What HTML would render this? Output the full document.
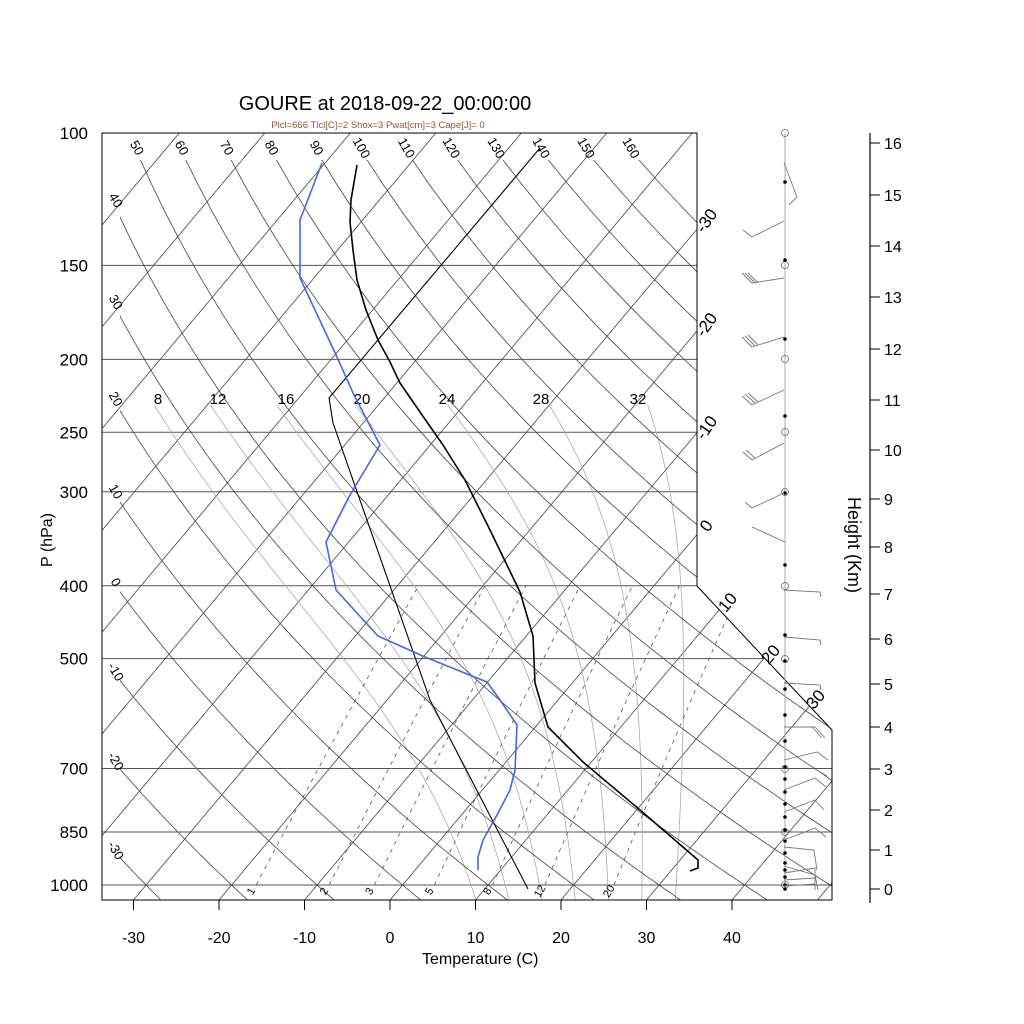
<!DOCTYPE html>
<html><head><meta charset="utf-8"><style>
html,body{margin:0;padding:0;background:#fff;}
svg{display:block;font-family:"Liberation Sans",sans-serif;}
</style></head><body>
<svg id="s" width="1024" height="1024" viewBox="0 0 1024 1024" xmlns="http://www.w3.org/2000/svg">
<defs>
<clipPath id="box"><polygon points="102,133 697,133 697,586 832,730 832,900 102,900"/></clipPath>
<clipPath id="dry"><polygon points="120,160 697,160 697,586 832,730 832,900 120,900"/></clipPath>
</defs>
<rect width="1024" height="1024" fill="#fff"/>
<g id="grid" clip-path="url(#box)"></g>
<g id="dryg" clip-path="url(#dry)"></g>
<g id="lab"></g>
<polygon points="102,133 697,133 697,586 832,730 832,900 102,900" fill="none" stroke="#000" stroke-width="1"/>
<text x="385" y="110" font-size="20" text-anchor="middle">GOURE at 2018-09-22_00:00:00</text>
<text x="378" y="128" font-size="9.5" fill="#a0522d" text-anchor="middle">Plcl=666 Tlcl[C]=2 Shox=3 Pwat[cm]=3 Cape[J]= 0</text>
<text x="422" y="964" font-size="16">Temperature (C)</text>
<text transform="translate(52,540) rotate(-90)" font-size="16" text-anchor="middle">P (hPa)</text>
<text transform="translate(848,545) rotate(90)" font-size="18" text-anchor="middle">Height (Km)</text>
<line x1="870" y1="133" x2="870" y2="903" stroke="#000" stroke-width="1.2"/>
<line x1="785" y1="133" x2="785" y2="890" stroke="#aaa" stroke-width="1"/>
</svg>
<script>
var NS="http://www.w3.org/2000/svg";
function el(parent,tag,attrs,txt){var e=document.createElementNS(NS,tag);for(var k in attrs)e.setAttribute(k,attrs[k]);if(txt!==undefined)e.textContent=txt;document.getElementById(parent).appendChild(e);return e;}
function Yp(p){return 133+326.6*Math.log(p/100);}
function Xt(T,p){return 390+8.55*T+0.84*(900-Yp(p));}
function path(pts){return pts.map(function(q,i){return (i?"L":"M")+q[0].toFixed(1)+","+q[1].toFixed(1);}).join("");}
var PB=100*Math.exp(767/326.6);
[100,150,200,250,300,400,500,700,850,1000].forEach(function(p){var y=Yp(p);el("grid","line",{x1:102,y1:y,x2:840,y2:y,stroke:"#555","stroke-width":1});
 el("s","text",{x:88,y:y+6,"font-size":17,"text-anchor":"end"},String(p));});
for(var TT=-120;TT<=60;TT+=10){el("grid","path",{d:path([[Xt(TT,PB),900],[Xt(TT,100),133]]),stroke:"#444","stroke-width":0.8,fill:"none"});}
for(var th=-30;th<=160;th+=10){var pts=[];for(var p=PB;p>=100;p-=10){var t=(th+273.15)*Math.pow(p/1000,0.286)-273.15;pts.push([Xt(t,p),Yp(p)]);}
 var t1=(th+273.15)*Math.pow(100/1000,0.286)-273.15;pts.push([Xt(t1,100),133]);
 el("dryg","path",{d:path(pts),stroke:"#444","stroke-width":0.8,fill:"none"});
 if(th>=50){var plv=100*Math.exp(17/326.6);var tl=(th+273.15)*Math.pow(plv/1000,0.286)-273.15;var xl=Xt(tl,plv);
  el("lab","text",{transform:"translate("+(xl-3)+",150) rotate(60)","font-size":13,"text-anchor":"middle"},String(th));}
 else{var best=null;for(var p2=PB;p2>=100;p2-=1){var t2=(th+273.15)*Math.pow(p2/1000,0.286)-273.15;if(Math.abs(Xt(t2,p2)-112)<1.5){best=Yp(p2);break;}}
  if(best!==null&&best<890)el("lab","text",{transform:"translate(112,"+(best+2)+") rotate(60)","font-size":13,"text-anchor":"middle"},String(th));}
}
function es(Tc){return 6.112*Math.exp(17.67*Tc/(Tc+243.5));}
function dTdp(T,p){var Tc=T-273.15,e=es(Tc),rs=0.622*e/(p-e),Rd=287,Lv=2.5e6,cp=1005;return (Rd*T+Lv*rs)/(cp+Lv*Lv*rs*0.622/(Rd*T*T))/p;}
[8,12,16,20,24,28,32].forEach(function(tw){var T=tw+273.15,p=1000;
 var Td=T,pd=1000;var down=[];while(pd<PB){var h=Math.min(2,PB-pd);Td+=dTdp(Td,pd)*h;pd+=h;down.push([Xt(Td-273.15,pd),Yp(pd)]);}
 down.reverse();var pts=down.concat([[Xt(tw,1000),Yp(1000)]]);
 while(p>230){T-=dTdp(T,p)*2;p-=2;pts.push([Xt(T-273.15,p),Yp(p)]);}
 el("grid","path",{d:path(pts),stroke:"#aaa","stroke-width":0.8,fill:"none"});});
[[8,158],[12,218],[16,286],[20,362],[24,447],[28,541],[32,638]].forEach(function(a){el("lab","text",{x:a[1],y:404,"font-size":15,"text-anchor":"middle"},String(a[0]));});
[1,2,3,5,8,12,20].forEach(function(w){var pts=[];for(var p=1000;p>=400;p-=10){var e=w*p/(622+w),l=Math.log(e/6.112),Td=243.5*l/(17.67-l);pts.push([Xt(Td,p),Yp(p)]);}
 el("grid","path",{d:path(pts),stroke:"#555","stroke-width":0.8,fill:"none","stroke-dasharray":"4,5"});
 var x0=pts[0][0];el("lab","text",{transform:"translate("+(x0-2)+",893) rotate(-60)","font-size":11,"text-anchor":"middle"},String(w));});
[[-30,218],[-20,322],[-10,425],[0,523]].forEach(function(a){el("lab","text",{transform:"translate(711,"+(a[1]+6)+") rotate(-55)","font-size":17,"text-anchor":"middle"},String(a[0]));});
[[10,732,600],[20,775,652],[30,820,697]].forEach(function(a){el("lab","text",{transform:"translate("+a[1]+","+(a[2]+6)+") rotate(-50)","font-size":17,"text-anchor":"middle"},String(a[0]));});
[-30,-20,-10,0,10,20,30,40].forEach(function(t){var x=390+8.55*t;el("s","line",{x1:x,y1:900,x2:x,y2:910,stroke:"#000"});el("s","text",{x:x,y:943,"font-size":16,"text-anchor":"middle"},String(t));});
[889,850,810,769,727,684,639,594,547,499,450,400,349,297,246,195,143].forEach(function(y,i){el("s","line",{x1:870,y1:y,x2:880,y2:y,stroke:"#000"});el("s","text",{x:884,y:y+6,"font-size":16},String(i));});
function drawLine(pts,c,w){el("s","polyline",{points:pts.map(function(q){return q.join(",");}).join(" "),fill:"none",stroke:c,"stroke-width":w,"stroke-linejoin":"round"});}
drawLine([[357,165],[351,200],[350,222],[353,250],[357,280],[366,310],[378,340],[390,362],[400,383],[420,412],[443,445],[465,480],[490,530],[520,592],[533,636],[535,683],[548,727],[583,762],[640,810],[698,860],[698,868],[690,871]],"#000",1.6);
drawLine([[540,148],[329,398],[333,423],[430,700],[528,889]],"#000",1.1);
drawLine([[322,163],[300,220],[300,278],[337,357],[353,393],[380,445],[350,495],[326,542],[336,590],[378,636],[425,657],[487,682],[500,700],[517,725],[515,770],[510,790],[497,815],[483,840],[478,857],[478,870]],"#4169e1",1.6);
[133,265,359,432,492,586,659,769,832,885].forEach(function(y){el("s","circle",{cx:785,cy:y,r:3.5,fill:"none",stroke:"#666","stroke-width":0.8});});
[182,260,339,416,493,565,635,661,689,715,741,767,779,792,804,817,830,841,853,863,870,877,885,889].forEach(function(y){el("s","circle",{cx:785,cy:y,r:1.8,fill:"#000"});});
var B=[
 "M784,163L797,197L789,205",
 "M784,221L752,237L743,230",
 "M784,278L752,283M752,283L742,273M755,283L745,273M758,283L748,273",
 "M784,337L752,347M752,347L742,337M755,346L745,336M758,345L748,335",
 "M784,390L752,405M752,405L742,396M755,403L745,394M758,402L748,393",
 "M784,443L752,460M752,460L743,452M755,458L746,450",
 "M784,493L752,508M752,508L745,502",
 "M785,542L752,527",
 "M784,590L820,592L821,597",
 "M784,637L820,640L821,645",
 "M784,683L820,685L821,690",
 "M784,727L815,727M812,727L822,738M815,727L825,738",
 "M784,760L817,752L828,760",
 "M784,790L815,778L826,787M815,769L827,776",
 "M784,812L815,800L824,810",
 "M784,840L815,828L826,837",
 "M784,847L814,850L817,870",
 "M784,866L815,875L818,890",
 "M784,873L815,868L815,890M784,880L815,878M784,886L815,884"];
B.forEach(function(d){el("s","path",{d:d,fill:"none",stroke:"#777","stroke-width":0.9});});
</script>
</body></html>
